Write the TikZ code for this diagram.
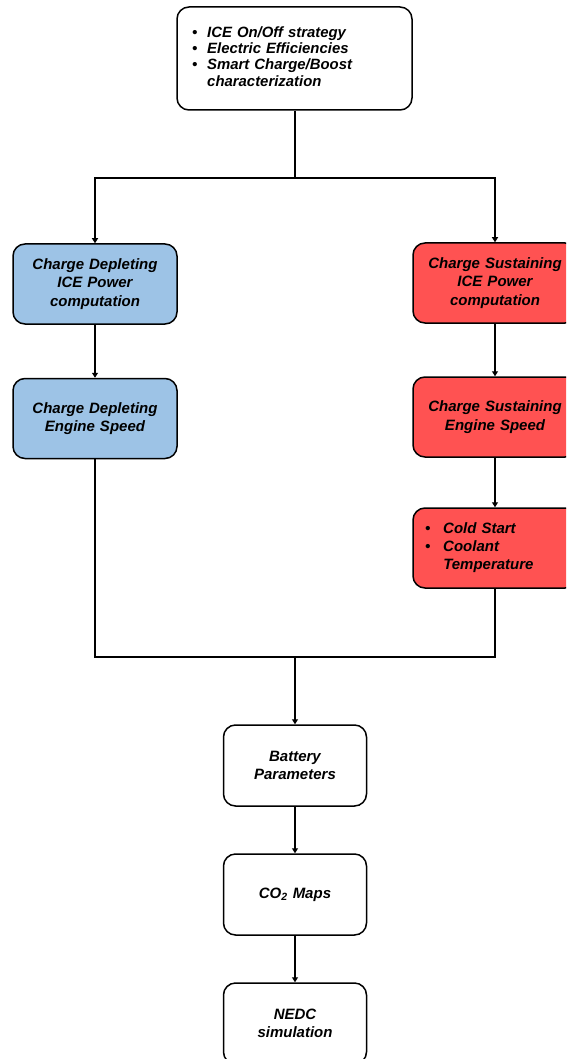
\documentclass[tikz,border=0pt]{standalone}
\usepackage{fontspec}
\setmainfont{Liberation Sans}
\usetikzlibrary{arrows.meta}
\definecolor{cdblue}{RGB}{157,195,230}
\definecolor{csred}{RGB}{255,82,82}
\begin{document}
\begin{tikzpicture}[x=1pt,y=-1pt,
  box/.style={draw=black,line width=1.5pt,rounded corners=12pt,
    minimum width=164pt,minimum height=80pt,inner sep=0pt,
    text width=152pt,align=center,
    font=\fontsize{15}{18.3}\selectfont\bfseries\itshape},
  bluebox/.style={box,fill=cdblue},
  redbox/.style={box,fill=csred},
  whitebox/.style={box,fill=white,minimum width=143pt,minimum height=81pt,text width=130pt},
  conn/.style={line width=1.5pt},
  arr/.style={conn,-{Triangle[width=6pt,length=5pt]}}
]
\useasboundingbox (0,0) rectangle (566,1059);
\clip (0,0) rectangle (566,1059);

\node[box,fill=white,minimum width=235pt,minimum height=103pt,
  text width=205pt,align=left,inner xsep=15pt,
  font=\fontsize{14.9}{16.4}\selectfont\bfseries\itshape] (top) at (294.5,58.5)
  {\begin{tabular}{@{}l@{\hspace{10pt}}l@{}}
   •& ICE On/Off strategy\\
   •& Electric Efficiencies\\
   •& Smart Charge/Boost\\
    & characterization
   \end{tabular}};

\node[bluebox] (L1) at (95,284) {Charge Depleting\\ICE Power\\computation};
\node[bluebox] (L2) at (95,418.5) {Charge Depleting\\Engine Speed};

\node[redbox] (R1) at (495,283) {Charge Sustaining\\ICE Power\\computation};
\node[redbox] (R2) at (495,417) {Charge Sustaining\\Engine Speed};
\node[redbox,align=left,text width=140pt,inner xsep=12pt] (R3) at (495,548)
  {\begin{tabular}{@{}l@{\hspace{13pt}}l@{}}
   •& Cold Start\\
   •& Coolant\\
    & Temperature
   \end{tabular}};

\node[whitebox] (bat) at (295,765.5) {Battery\\Parameters};
\node[whitebox] (co2) at (295,894.5) {CO\textsubscript{2} Maps};
\node[whitebox] (nedc) at (295,1023.5) {NEDC\\simulation};

\coordinate (split) at (295,178);
\coordinate (join) at (295,657);

\draw[conn] (top.south -| split) -- (split);
\draw[arr] (split) -| (L1.north);
\draw[arr] (split) -| (R1.north);
\draw[arr] (L1) -- (L2);
\draw[arr] (R1) -- (R2);
\draw[arr] (R2) -- (R3);
\draw[conn] (L2.south) |- (join);
\draw[conn] (R3.south) |- (join);
\draw[arr] (join) -- (bat.north);
\draw[arr] (bat) -- (co2);
\draw[arr] (co2) -- (nedc);
\end{tikzpicture}
\end{document}
